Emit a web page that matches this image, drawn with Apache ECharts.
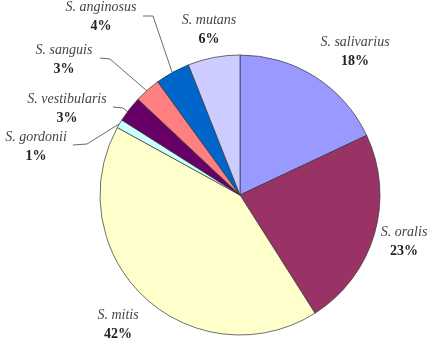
<!DOCTYPE html>
<html><head><meta charset="utf-8">
<script src="https://cdn.jsdelivr.net/npm/echarts@6/dist/echarts.min.js"></script>
<style>html,body{margin:0;padding:0;background:#fff}#c{width:433px;height:346px}</style>
</head><body><div id="c"></div>
<script>
var species = ['S. salivarius','S. oralis','S. mitis','S. gordonii','S. vestibularis','S. sanguis','S. anginosus','S. mutans'];
var shares = [18, 23, 42, 1, 3, 3, 4, 6];
var colors = ['#9999FF','#993366','#FFFFCC','#CCFFFF','#660066','#FF8080','#0066CC','#CCCCFF'];

// label placement (center of two-line label) and optional leader line per slice
var labelPos = [[355,52],[404,242],[118,325],[36,147],[67,109],[64,60],[101,17],[209,30]];
var leaders = [null, null, null,
  [[73,145],[87,144],[119,124]],
  [[113,107],[123,108],[128,112]],
  [[100,58],[110,59],[147,91]],
  [[143,16],[153,16],[172,72]],
  null];

var chart = echarts.init(document.getElementById('c'), null, {renderer:'canvas'});
chart.setOption({
  animation:false,
  series:[{
    type:'pie',
    center:[240,195],
    radius:140,
    startAngle:90,
    clockwise:true,
    avoidLabelOverlap:false,
    itemStyle:{borderColor:'#333',borderWidth:0.7},
    label:{
      show:true,
      position:'outside',
      formatter:function(p){return '{n|'+p.name+'}\n{p|'+p.value+'%}';},
      rich:{
        n:{fontFamily:'Liberation Serif, serif',fontStyle:'italic',fontSize:14,color:'#444',lineHeight:19,align:'center'},
        p:{fontFamily:'Liberation Serif, serif',fontWeight:'bold',fontSize:14,color:'#222',lineHeight:19,align:'center'}
      }
    },
    labelLine:{show:true,lineStyle:{color:'#444',width:0.8},length:5,length2:5},
    labelLayout:function(params){
      var i = params.dataIndex;
      var r = {x:labelPos[i][0], y:labelPos[i][1], align:'center', verticalAlign:'middle'};
      r.labelLinePoints = leaders[i] ? leaders[i] : [[0,0],[0,0],[0,0]];
      return r;
    },
    data:species.map(function(s,i){
      return {name:s, value:shares[i], itemStyle:{color:colors[i]},
        labelLine:{show: !!leaders[i]}};
    })
  }]
});
</script></body></html>
